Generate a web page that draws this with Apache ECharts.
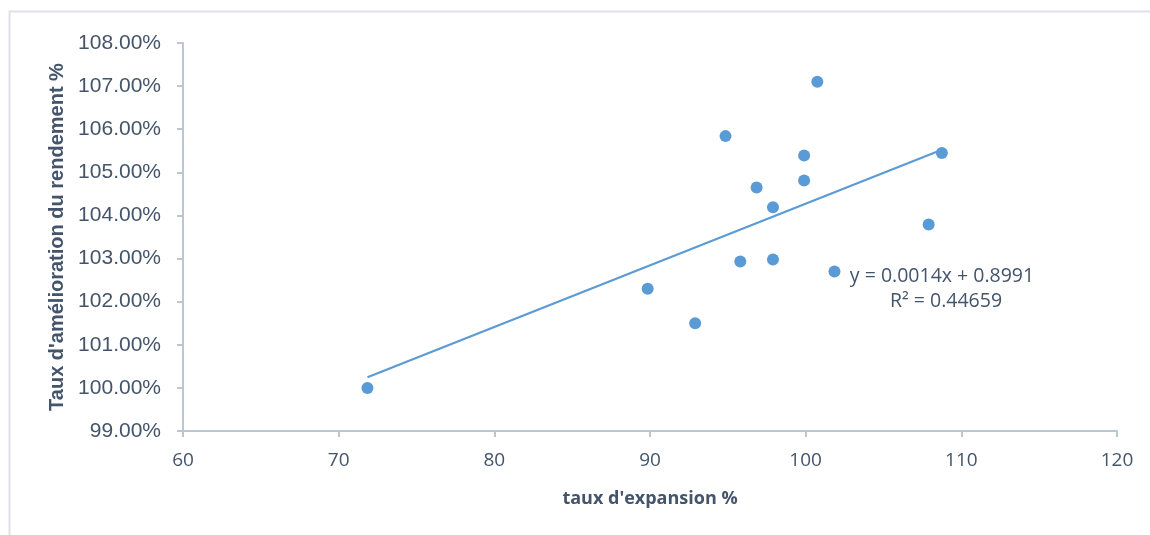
<!DOCTYPE html>
<html>
<head>
<meta charset="utf-8">
<script src="https://cdn.jsdelivr.net/npm/echarts@6/dist/echarts.min.js"></script>
<style>
html,body{margin:0;padding:0;background:#fff;}
#chart{width:1150px;height:535px;}
</style>
</head>
<body>
<div id="chart"></div>
<script>
// Data (x: taux d'expansion %, y: taux d'amélioration du rendement %)
const expansion = [71.85, 89.85, 92.9, 94.85, 95.8, 96.85, 97.9, 97.9, 99.9, 99.9, 100.75, 101.85, 107.9, 108.75];
const rendement = [100.0, 102.30, 101.50, 105.84, 102.93, 104.65, 104.19, 102.98, 105.39, 104.81, 107.10, 102.70, 103.79, 105.45];
const xTicks = [60, 70, 80, 90, 100, 110, 120];
const yTicks = [99, 100, 101, 102, 103, 104, 105, 106, 107, 108];
const equationText = 'y = 0.0014x + 0.8991';
const r2Text = 'R² = 0.44659';

// least-squares trend line from the points
const n = expansion.length;
const mx = expansion.reduce((a, b) => a + b, 0) / n;
const my = rendement.reduce((a, b) => a + b, 0) / n;
let sxy = 0, sxx = 0;
for (let i = 0; i < n; i++) { sxy += (expansion[i] - mx) * (rendement[i] - my); sxx += (expansion[i] - mx) ** 2; }
const slope = sxy / sxx, intercept = my - slope * mx;
const xLo = Math.min(...expansion), xHi = Math.max(...expansion);
const trend = [[xLo, intercept + slope * xLo], [xHi, intercept + slope * xHi]];

const points = expansion.map((x, i) => [x, rendement[i]]);
const textColor = '#44546a';
const axisColor = '#bcc5d3';

const chart = echarts.init(document.getElementById('chart'), null, {renderer: 'canvas'});
chart.setOption({
  animation: false,
  backgroundColor: '#ffffff',
  grid: {left: 183, right: 33, top: 43, bottom: 104, containLabel: false},
  xAxis: {
    type: 'value', min: xTicks[0], max: xTicks[xTicks.length - 1], interval: 10,
    name: "taux d'expansion %", nameLocation: 'middle', nameGap: 59,
    nameTextStyle: {fontFamily: 'Open Sans', fontWeight: 'bold', fontSize: 18, color: textColor},
    axisLine: {show: true, lineStyle: {color: axisColor, width: 2}},
    axisTick: {show: true, length: 6, lineStyle: {color: axisColor, width: 2}},
    axisLabel: {fontFamily: 'Open Sans', fontSize: 19, color: textColor, margin: 20},
    splitLine: {show: false}
  },
  yAxis: {
    type: 'value', min: yTicks[0], max: yTicks[yTicks.length - 1], interval: 1,
    name: "Taux d'amélioration du rendement %", nameLocation: 'middle', nameGap: 108, nameRotate: 90,
    nameTextStyle: {fontFamily: 'Liberation Sans', fontWeight: 'bold', fontSize: 20, color: textColor},
    axisLine: {show: true, lineStyle: {color: axisColor, width: 2}},
    axisTick: {show: true, length: 6, lineStyle: {color: axisColor, width: 2}},
    axisLabel: {fontFamily: 'Liberation Sans', fontSize: 21, color: textColor, margin: 22,
      formatter: v => v.toFixed(2) + '%'},
    splitLine: {show: false}
  },
  series: [
    {
      type: 'line', data: trend, symbol: 'none', silent: true,
      lineStyle: {color: '#5b9bd5', width: 2.2}, z: 2
    },
    {
      type: 'scatter', data: points, symbol: 'circle', symbolSize: 12,
      itemStyle: {color: '#5b9bd5', opacity: 1}, z: 3
    }
  ],
  graphic: [
    {type: 'rect', shape: {x: 9.5, y: 11.5, width: 1300, height: 700}, style: {fill: 'none', stroke: '#dde2e8', lineWidth: 2}, z: -10, silent: true},
    {type: 'text', x: 942, y: 276, style: {text: equationText, font: '19.5px "Open Sans"', fill: textColor, textAlign: 'center', textVerticalAlign: 'middle'}},
    {type: 'text', x: 946, y: 301, style: {text: r2Text, font: '19.5px "Open Sans"', fill: textColor, textAlign: 'center', textVerticalAlign: 'middle'}}
  ]
});
</script>
</body>
</html>
